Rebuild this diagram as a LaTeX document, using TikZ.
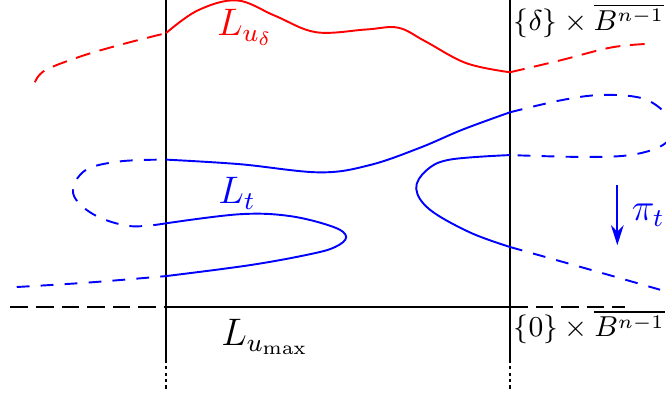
\documentclass[tikz,border=0pt]{standalone}
\usepackage{amsmath,amssymb}
\usepackage{tikz}
\usetikzlibrary{arrows.meta, calc, positioning}
\tikzset{
  wall/.style     = {thin, black},
  wallend/.style  = {thin, black, dash pattern=on 1pt off 1pt},
  base/.style     = {thick, black},
  baseext/.style  = {semithick, black, dash pattern=on 5.5pt off 2.5pt},
  udelta/.style   = {semithick, red},
  udeltaext/.style = {semithick, red, dash pattern=on 4.7pt off 3pt},
  leaf/.style     = {semithick, blue},
  leafext/.style  = {semithick, blue, dash pattern=on 4pt off 3.5pt},
  proj/.style     = {-{Stealth[length=2.2mm, width=1.4mm]}, semithick, blue},
  lbl/.style      = {font=\small, inner sep=1pt},
  biglbl/.style   = {font=\large, inner sep=1pt},
}

\begin{document}
\begin{tikzpicture}
  \useasboundingbox (-1.824,-0.989) rectangle (5.495,3.374);
  % walls of the box
  \draw[wall] (0,3.374) -- (0,-0.58);
  \draw[wallend] (0,-0.58) -- (0,-0.92);
  \draw[wall] (3.78,3.374) -- (3.78,-0.58);
  \draw[wallend] (3.78,-0.58) -- (3.78,-0.92);
  % bottom slice
  \draw[base] (0,0) -- (3.78,0);
  \draw[baseext] (-1.71,0) -- (0,0);
  \draw[baseext] (3.78,0) -- (5.04,0);
  % the leaf L_{u_delta}
  \draw[udeltaext] plot[smooth, tension=0.6] coordinates
    {(-1.44,2.47) (-1.33,2.60) (-0.95,2.75) (-0.51,2.88) (0,3.01)};
  \draw[udelta] plot[smooth, tension=0.6] coordinates
    {(0,3.01) (0.35,3.26) (0.78,3.37) (1.2,3.2) (1.65,3.02) (2.2,3.05)
     (2.55,3.07) (2.85,2.92) (3.3,2.68) (3.78,2.58)};
  \draw[udeltaext] plot[smooth, tension=0.6] coordinates
    {(3.78,2.58) (4.33,2.71) (4.88,2.85) (5.26,2.89)};
  % the leaf L_t
  \draw[leafext] plot[smooth, tension=0.6] coordinates
    {(-1.64,0.22) (-0.84,0.27) (0,0.34)};
  \draw[leaf] plot[smooth, tension=0.6] coordinates
    {(0,0.34) (0.92,0.46) (1.58,0.58) (1.86,0.66) (1.98,0.77) (1.84,0.88)
     (1.36,1.0) (0.81,1.02) (0,0.92)};
  \draw[leafext] plot[smooth, tension=0.6] coordinates
    {(0,0.92) (-0.40,0.89) (-0.80,1.02) (-1.02,1.25) (-0.89,1.50)
     (-0.51,1.60) (0,1.62)};
  \draw[leaf] plot[smooth, tension=0.6] coordinates
    {(0,1.62) (0.81,1.57) (1.69,1.48) (2.24,1.56) (2.79,1.75) (3.26,1.95)
     (3.78,2.14)};
  \draw[leafext] plot[smooth, tension=0.6] coordinates
    {(3.78,2.14) (4.33,2.27) (4.77,2.33) (5.21,2.30) (5.46,2.16) (5.59,1.97)
     (5.46,1.78) (5.10,1.67) (4.55,1.65) (3.78,1.67)};
  \draw[leaf] plot[smooth, tension=0.6] coordinates
    {(3.78,1.67) (3.12,1.62) (2.86,1.50) (2.75,1.30) (2.90,1.07) (3.34,0.82)
     (3.78,0.66)};
  \draw[leafext] plot[smooth, tension=0.6] coordinates
    {(3.78,0.66) (4.77,0.38) (5.43,0.19)};
  % projection
  \coordinate (projtop) at (4.96,1.34);
  \coordinate (projbot) at (4.96,0.68);
  \draw[proj] (projtop) -- (projbot);
  \node[biglbl, blue] (pilbl) at (5.30,1.01) {$\pi_t$};
  % labels
  \node[biglbl, red] (udlbl) at (0.87,3.07) {$L_{u_\delta}$};
  \node[biglbl, blue] (ltlbl) at (0.78,1.25) {$L_t$};
  \node[biglbl] (umaxlbl) at (1.09,-0.33) {$L_{u_{\max}}$};
  \node[lbl, anchor=west] (toplbl) at (3.78,3.15) {$\{\delta\}\times\overline{B^{n-1}}$};
  \node[lbl, anchor=west] (botlbl) at (3.78,-0.22) {$\{0\}\times\overline{B^{n-1}}$};
\end{tikzpicture}
\end{document}
